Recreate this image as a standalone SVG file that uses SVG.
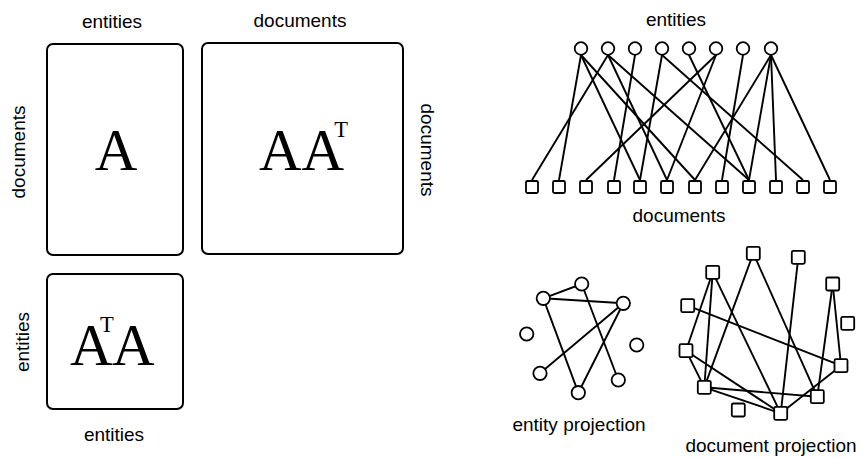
<svg xmlns="http://www.w3.org/2000/svg" width="863" height="458" viewBox="0 0 863 458">
<style>
.lbl{font-family:"Liberation Sans",Arial,sans-serif;font-size:19px;fill:#000;text-anchor:middle}
.mat{font-family:"Liberation Serif","Times New Roman",serif;font-size:59px;fill:#000}
.sup{font-size:22.5px}
.box{fill:#fff;stroke:#000;stroke-width:2}
.e{stroke:#000;stroke-width:1.9;fill:none}
.c{fill:#fff;stroke:#000;stroke-width:1.8}
.s{fill:#fff;stroke:#000;stroke-width:1.8}
</style>
<rect width="863" height="458" fill="#fff"/>

<!-- matrices -->
<g id="matA">
<rect class="box" x="47" y="44" width="136" height="211" rx="6"/>
<text class="mat" x="116" y="170" text-anchor="middle">A</text>
</g>
<g id="matAAT">
<rect class="box" x="202" y="43" width="201" height="211" rx="6"/>
<text class="mat" x="259" y="170">AA<tspan class="sup" dx="-10" dy="-33">T</tspan></text>
</g>
<g id="matATA">
<rect class="box" x="47" y="274" width="136" height="135" rx="6"/>
<text class="mat" x="70" y="365">A<tspan class="sup" dx="-12.6" dy="-33">T</tspan><tspan dx="-1.7" dy="33">A</tspan></text>
</g>
<g id="matLabels">
<text class="lbl" x="112" y="28">entities</text>
<text class="lbl" x="300" y="27">documents</text>
<text class="lbl" transform="translate(25,152) rotate(-90)">documents</text>
<text class="lbl" transform="translate(29,342) rotate(-90)">entities</text>
<text class="lbl" transform="translate(421,150) rotate(90)">documents</text>
<text class="lbl" x="114" y="441">entities</text>
</g>

<!-- bipartite graph connectors -->
<g id="bipartite-edges" class="e">
<line x1="581" y1="55" x2="559" y2="180"/>
<line x1="581" y1="55" x2="640" y2="180"/>
<line x1="581" y1="55" x2="695" y2="180"/>
<line x1="608" y1="55" x2="532" y2="180"/>
<line x1="608" y1="55" x2="667" y2="180"/>
<line x1="608" y1="55" x2="749" y2="180"/>
<line x1="635" y1="55" x2="614" y2="180"/>
<line x1="662" y1="55" x2="640" y2="180"/>
<line x1="662" y1="55" x2="803" y2="180"/>
<line x1="689" y1="55" x2="749" y2="180"/>
<line x1="716" y1="55" x2="586" y2="180"/>
<line x1="716" y1="55" x2="667" y2="180"/>
<line x1="743" y1="55" x2="722" y2="180"/>
<line x1="771" y1="55" x2="695" y2="180"/>
<line x1="771" y1="55" x2="749" y2="180"/>
<line x1="771" y1="55" x2="776" y2="180"/>
<line x1="771" y1="55" x2="830" y2="180"/>
</g>
<g id="bipartite-entities">
<circle class="c" cx="581" cy="48.5" r="6.3"/>
<circle class="c" cx="608" cy="48.5" r="6.3"/>
<circle class="c" cx="635" cy="48.5" r="6.3"/>
<circle class="c" cx="662" cy="48.5" r="6.3"/>
<circle class="c" cx="689" cy="48.5" r="6.3"/>
<circle class="c" cx="716" cy="48.5" r="6.3"/>
<circle class="c" cx="743" cy="48.5" r="6.3"/>
<circle class="c" cx="771" cy="48.5" r="6.3"/>
</g>
<g id="bipartite-documents">
<rect class="s" x="526" y="181" width="12" height="12" rx="1.5"/>
<rect class="s" x="553" y="181" width="12" height="12" rx="1.5"/>
<rect class="s" x="580" y="181" width="12" height="12" rx="1.5"/>
<rect class="s" x="608" y="181" width="12" height="12" rx="1.5"/>
<rect class="s" x="634" y="181" width="12" height="12" rx="1.5"/>
<rect class="s" x="661" y="181" width="12" height="12" rx="1.5"/>
<rect class="s" x="689" y="181" width="12" height="12" rx="1.5"/>
<rect class="s" x="716" y="181" width="12" height="12" rx="1.5"/>
<rect class="s" x="743" y="181" width="12" height="12" rx="1.5"/>
<rect class="s" x="770" y="181" width="12" height="12" rx="1.5"/>
<rect class="s" x="797" y="181" width="12" height="12" rx="1.5"/>
<rect class="s" x="824" y="181" width="12" height="12" rx="1.5"/>
</g>
<g id="bipartite-labels">
<text class="lbl" x="676" y="26">entities</text>
<text class="lbl" x="679" y="222">documents</text>
</g>

<!-- entity projection -->
<g id="entity-edges" class="e">
<line x1="543.3" y1="298.3" x2="581.7" y2="284"/>
<line x1="543.3" y1="298.3" x2="623.3" y2="303.3"/>
<line x1="543.3" y1="298.3" x2="578.3" y2="392.7"/>
<line x1="581.7" y1="284" x2="618.3" y2="380"/>
<line x1="623.3" y1="303.3" x2="540" y2="373.3"/>
<line x1="623.3" y1="303.3" x2="578.3" y2="392.7"/>
</g>
<g id="entity-nodes">
<circle class="c" cx="543.3" cy="298.3" r="6.7"/>
<circle class="c" cx="581.7" cy="284" r="6.7"/>
<circle class="c" cx="623.3" cy="303.3" r="6.7"/>
<circle class="c" cx="526.7" cy="334" r="6.7"/>
<circle class="c" cx="636.7" cy="345" r="6.7"/>
<circle class="c" cx="540" cy="373.3" r="6.7"/>
<circle class="c" cx="618.3" cy="380" r="6.7"/>
<circle class="c" cx="578.3" cy="392.7" r="6.7"/>
</g>
<text id="entity-projection-label" class="lbl" x="579" y="431">entity projection</text>

<!-- document projection -->
<g id="document-edges" class="e">
<line x1="712.7" y1="272.3" x2="686" y2="350.7"/>
<line x1="712.7" y1="272.3" x2="704.3" y2="387.3"/>
<line x1="712.7" y1="272.3" x2="780.7" y2="413.3"/>
<line x1="753.3" y1="253.3" x2="704.3" y2="387.3"/>
<line x1="753.3" y1="253.3" x2="817.3" y2="396.7"/>
<line x1="798.3" y1="257.3" x2="780.7" y2="413.3"/>
<line x1="832.7" y1="284" x2="817.3" y2="396.7"/>
<line x1="832.7" y1="284" x2="841" y2="365.7"/>
<line x1="687.7" y1="305.7" x2="841" y2="365.7"/>
<line x1="686" y1="350.7" x2="704.3" y2="387.3"/>
<line x1="686" y1="350.7" x2="780.7" y2="413.3"/>
<line x1="704.3" y1="387.3" x2="817.3" y2="396.7"/>
<line x1="704.3" y1="387.3" x2="780.7" y2="413.3"/>
<line x1="841" y1="365.7" x2="780.7" y2="413.3"/>
</g>
<g id="document-nodes">
<rect class="s" x="746.8" y="246.8" width="13" height="13" rx="1.5"/>
<rect class="s" x="791.8" y="250.8" width="13" height="13" rx="1.5"/>
<rect class="s" x="706.2" y="265.8" width="13" height="13" rx="1.5"/>
<rect class="s" x="826.2" y="277.5" width="13" height="13" rx="1.5"/>
<rect class="s" x="681.2" y="299.2" width="13" height="13" rx="1.5"/>
<rect class="s" x="841.2" y="316.8" width="13" height="13" rx="1.5"/>
<rect class="s" x="679.5" y="344.2" width="13" height="13" rx="1.5"/>
<rect class="s" x="834.5" y="359.2" width="13" height="13" rx="1.5"/>
<rect class="s" x="697.8" y="380.8" width="13" height="13" rx="1.5"/>
<rect class="s" x="810.8" y="390.2" width="13" height="13" rx="1.5"/>
<rect class="s" x="731.8" y="403.5" width="13" height="13" rx="1.5"/>
<rect class="s" x="774.2" y="406.8" width="13" height="13" rx="1.5"/>
</g>
<text id="document-projection-label" class="lbl" x="771" y="452">document projection</text>
</svg>
